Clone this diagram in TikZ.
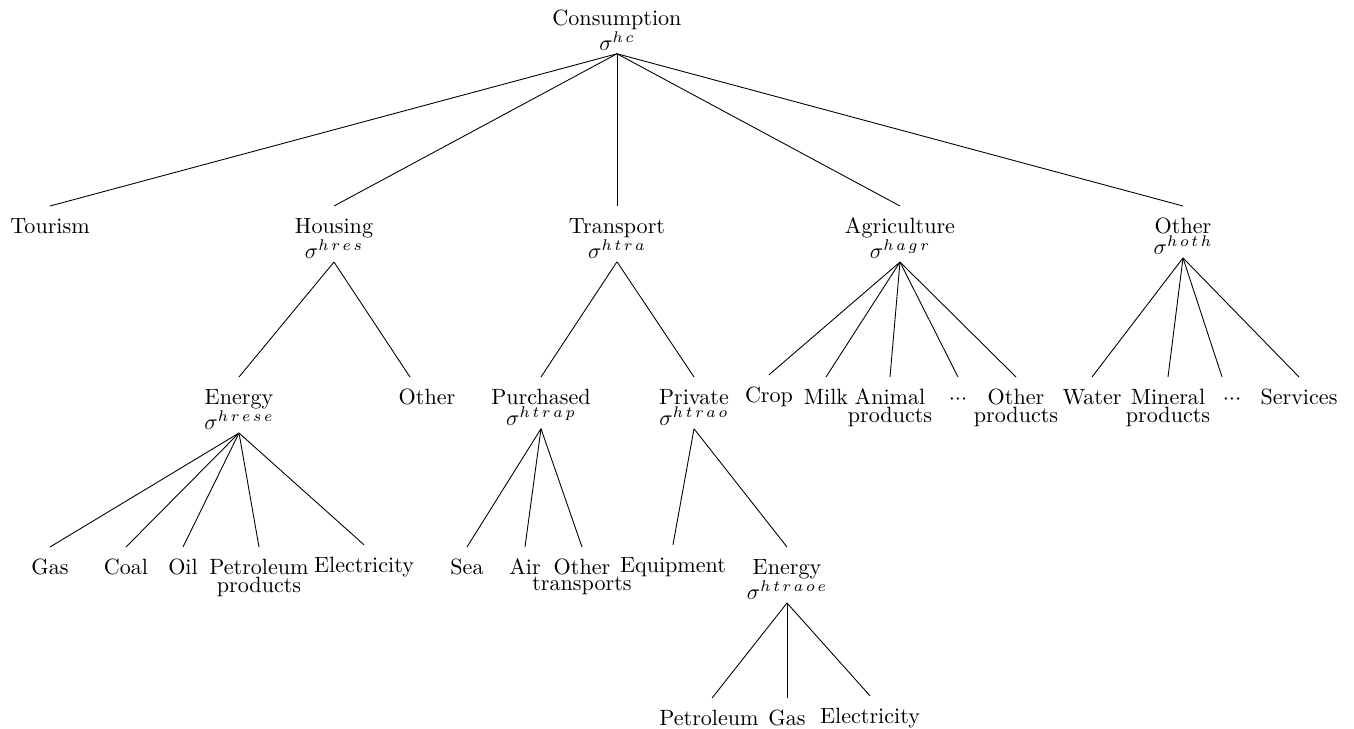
\documentclass[tikz,border=0pt]{standalone}
\usepackage{amsmath}
% first-line strut: fixes the gap between a label's top line and its incoming branch
\newcommand\lvltop{\rule{0pt}{12.2pt}}
% gap between the letters of an elasticity index
\newcommand\supgap{\kern1.2pt}
% elasticity label: sigma with an index, plus a little room below for the branches
\newcommand\sigmalbl[1]{$\sigma^{#1}$\rule[-1.2pt]{0pt}{1.2pt}}
% tight stacking of the lines inside a label
\newcommand\tightlines{\setlength{\baselineskip}{0pt}\setlength{\lineskip}{1pt}\setlength{\lineskiplimit}{0pt}}
% three centred dots
\newcommand\cdotrow{${\cdotp}{\cdotp}{\cdotp}$}
\begin{document}
\begin{tikzpicture}[x=0.4525pt, y=-0.4525pt,
  lbl/.style={anchor=north, inner sep=0pt, align=center,
    execute at begin node=\tightlines},
  desc/.style={yshift=1pt},
  branch/.style={draw=black, line width=0.4pt}]
\useasboundingbox (0,0) rectangle (1354,729);

% root
\node[lbl] (root) at (617,-2) {\lvltop Consumption\\\sigmalbl{h\supgap c}};

% first level
\node[lbl] (tour) at (50,206)  {\lvltop Tourism};
\node[lbl] (hous) at (334,206) {\lvltop Housing\\\sigmalbl{h\supgap r\supgap e\supgap s}};
\node[lbl] (tran) at (617,206) {\lvltop Transport\\\sigmalbl{h\supgap t\supgap r\supgap a}};
\node[lbl] (agri) at (900,206) {\lvltop Agriculture\\\sigmalbl{h\supgap a\supgap g\supgap r}};
\node[lbl] (oth)  at (1183,206) {\lvltop Other\\\sigmalbl{h\supgap o\supgap t\supgap h}};

% second level
\node[lbl] (hen)   at (239,377)  {\lvltop Energy\\\sigmalbl{h\supgap r\supgap e\supgap s\supgap e}};
\node[lbl] (hoth)  at (427,377)  {\lvltop Other};
\node[lbl] (pur)   at (541,377)  {\lvltop Purchased\\\sigmalbl{h\supgap t\supgap r\supgap a\supgap p}};
\node[lbl] (pri)   at (694,377)  {\lvltop Private\\\sigmalbl{h\supgap t\supgap r\supgap a\supgap o}};
\node[lbl,desc] (crop)  at (769,377)  {\lvltop Crop};
\node[lbl] (milk)  at (826,377)  {\lvltop Milk};
\node[lbl] (anim)  at (890,377)  {\lvltop Animal\\products};
\node[lbl] (adots) at (958,377)  {\lvltop \cdotrow};
\node[lbl] (aoth)  at (1016,377) {\lvltop Other\\products};
\node[lbl] (water) at (1092,377) {\lvltop Water};
\node[lbl] (miner) at (1168,377) {\lvltop Mineral\\products};
\node[lbl] (odots) at (1232,377) {\lvltop \cdotrow};
\node[lbl] (serv)  at (1299,377) {\lvltop Services};

% third level
\node[lbl] (gas)  at (50,547)  {\lvltop Gas};
\node[lbl] (coal) at (126,547) {\lvltop Coal};
\node[lbl] (oil)  at (183,547) {\lvltop Oil};
\node[lbl] (petp) at (259,547) {\lvltop Petroleum\\products};
\node[lbl,desc] (elec) at (364,547) {\lvltop Electricity};
\node[lbl] (sea)  at (467,547) {\lvltop Sea};
\node[lbl] (air)  at (525,547) {\lvltop Air};
\node[lbl] (otr)  at (582,547) {\lvltop Other\\transports};
\node[lbl,desc] (equ)  at (673,547) {\lvltop Equipment};
\node[lbl] (pen)  at (787,547) {\lvltop Energy\\\sigmalbl{h\supgap t\supgap r\supgap a\supgap o\supgap e}};

% fourth level
\node[lbl] (pet)  at (709,698) {\lvltop Petroleum};
\node[lbl] (pgas) at (787,698) {\lvltop Gas};
\node[lbl,desc] (pel)  at (870,698) {\lvltop Electricity};

% branches
\foreach \p/\c in {root/tour, root/hous, root/tran, root/agri, root/oth,
    hous/hen, tran/pur, tran/pri,
    agri/crop, agri/milk, agri/anim, agri/adots, agri/aoth,
    oth/water, oth/miner, oth/serv,
    hen/gas, hen/coal, hen/oil, hen/petp, hen/elec,
    pur/sea, pur/air, pur/otr, pri/equ, pri/pen,
    pen/pgas, pen/pel}
  \draw[branch] (\p.south) -- (\c.north);
\draw[branch] (pen.south) -- ([xshift=1.4pt]pet.north);
\draw[branch] (hous.south) -- ([xshift=-7.7pt]hoth.north);
\draw[branch] (oth.south) -- ([xshift=-4.5pt]odots.north);
\end{tikzpicture}
\end{document}
